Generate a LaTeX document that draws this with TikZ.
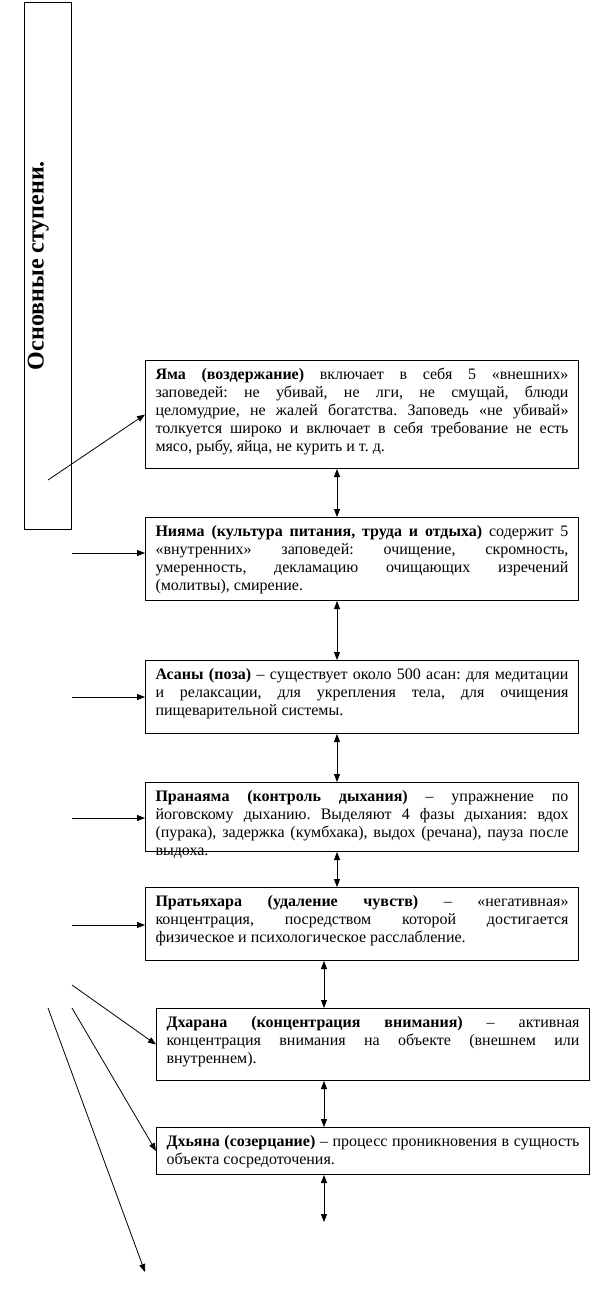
\documentclass[tikz,border=0pt]{standalone}
\usepackage{fontspec}
\setmainfont{Liberation Serif}
\usepackage{tikz}
\usetikzlibrary{positioning,arrows.meta}
\newcommand{\stagetext}[2]{\parbox[t][#1][t]{309.75pt}{\frenchspacing#2}}
\newcommand{\jl}[1]{\makebox[\linewidth][s]{#1}\par}

\begin{document}
\begin{tikzpicture}[
  x=0.75pt,y=-0.75pt,
  font=\fontsize{12pt}{13.5pt}\selectfont,
  stage/.style={draw,line width=0.75pt,anchor=north west,inner xsep=7.5pt,inner ysep=6pt},
  titlebox/.style={draw,line width=0.75pt,rotate=90,minimum width=395.25pt,inner sep=0pt,text height=14.25pt,text depth=21pt,font=\fontsize{18pt}{20pt}\selectfont\bfseries},
  arr/.style={-{Triangle[length=6pt,width=4.5pt]},line width=0.6pt},
  dbl/.style={{Triangle[length=6pt,width=4.5pt]}-{Triangle[length=6pt,width=4.5pt]},line width=0.6pt}]
  \path[fill=white,use as bounding box] (0,0) rectangle (613,1297);

  \node[titlebox] (title) at (48,265.5) {Основные ступени.};

  \node[stage] (yama) at (145,360) {\stagetext{69pt}{%
    \jl{\textbf{Яма (воздержание)} включает в себя 5 «внешних»}
    \jl{заповедей: не убивай, не лги, не смущай, блюди}
    \jl{целомудрие, не жалей богатства. Заповедь «не убивай»}
    \jl{толкуется широко и включает в себя требование не есть}
    мясо, рыбу, яйца, не курить и т. д.}};
  \node[stage] (niyama) at (145,517) {\stagetext{50.25pt}{%
    \jl{\textbf{Нияма (культура питания, труда и отдыха)} содержит 5}
    \jl{«внутренних» заповедей: очищение, скромность,}
    \jl{умеренность, декламацию очищающих изречений}
    (молитвы), смирение.}};
  \node[stage] (asany) at (145,660) {\stagetext{42.75pt}{%
    \jl{\textbf{Асаны (поза)} – существует около 500 асан: для медитации}
    \jl{и релаксации, для укрепления тела, для очищения}
    пищеварительной системы.}};
  \node[stage] (prana) at (145,782) {\stagetext{39.75pt}{%
    \jl{\textbf{Пранаяма (контроль дыхания)} – упражнение по}
    \jl{йоговскому дыханию. Выделяют 4 фазы дыхания: вдох}
    \jl{(пурака), задержка (кумбхака), выдох (речана), пауза после}
    выдоха.}};
  \node[stage] (pratya) at (145,887) {\stagetext{42.75pt}{%
    \jl{\textbf{Пратьяхара (удаление чувств)} – «негативная»}
    \jl{концентрация, посредством которой достигается}
    физическое и психологическое расслабление.}};
  \node[stage] (dharana) at (156,1008) {\stagetext{42pt}{%
    \jl{\textbf{Дхарана (концентрация внимания)} – активная}
    \jl{концентрация внимания на объекте (внешнем или}
    внутреннем).}};
  \node[stage] (dhyana) at (156,1127) {\stagetext{23.25pt}{%
    \jl{\textbf{Дхьяна (созерцание)} – процесс проникновения в сущность}
    объекта сосредоточения.}};

  \coordinate (colA) at (337,0);
  \coordinate (colB) at (324,0);
  \coordinate (yamafrom) at (48,480);
  \coordinate (niyamafrom) at (72,553);
  \coordinate (asanyfrom) at (72,697);
  \coordinate (pranafrom) at (72,818);
  \coordinate (pratyafrom) at (72,925);
  \coordinate (dharanafrom) at (72,985);
  \coordinate (dhyanafrom) at (72,1008);
  \coordinate (longfrom) at (48,1008);
  \coordinate (longto) at (145,1272);
  \coordinate (lastto) at (324,1222);

  \draw[arr] (yamafrom) -- (yama.west);
  \draw[arr] (niyamafrom) -- (niyamafrom -| niyama.west);
  \draw[arr] (asanyfrom) -- (asanyfrom -| asany.west);
  \draw[arr] (pranafrom) -- (pranafrom -| prana.west);
  \draw[arr] (pratyafrom) -- (pratyafrom -| pratya.west);
  \draw[arr] (dharanafrom) -- (dharana.west);
  \draw[arr] (dhyanafrom) -- (dhyana.west);
  \draw[arr] (longfrom) -- (longto);

  \draw[dbl] (yama.south -| colA) -- (niyama.north -| colA);
  \draw[dbl] (niyama.south -| colA) -- (asany.north -| colA);
  \draw[dbl] (asany.south -| colA) -- (prana.north -| colA);
  \draw[dbl] (prana.south -| colA) -- (pratya.north -| colA);
  \draw[dbl] (pratya.south -| colB) -- (dharana.north -| colB);
  \draw[dbl] (dharana.south -| colB) -- (dhyana.north -| colB);
  \draw[dbl] (dhyana.south -| colB) -- (lastto);
\end{tikzpicture}
\end{document}
